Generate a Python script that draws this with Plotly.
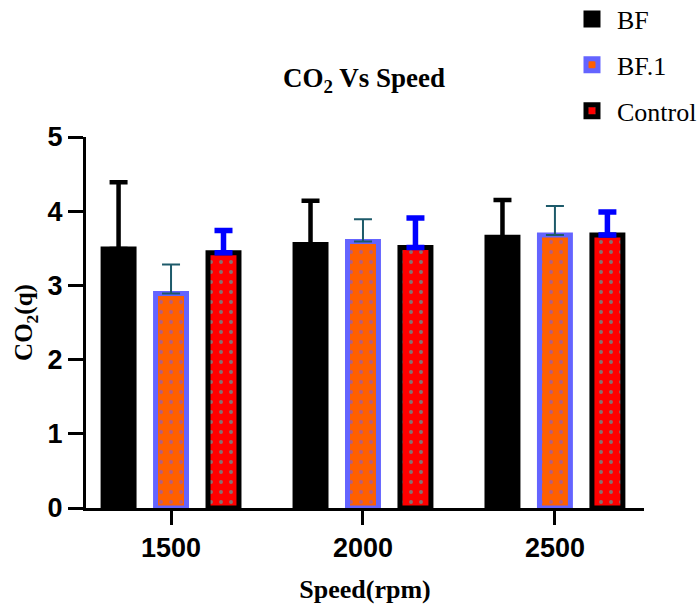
import plotly.graph_objects as go

speeds = ["1500", "2000", "2500"]
bf = [3.49, 3.55, 3.65]
bf_err = [0.90, 0.59, 0.50]
bf1 = [2.89, 3.59, 3.68]
bf1_err = [0.39, 0.30, 0.39]
ctrl = [3.44, 3.51, 3.68]
ctrl_err = [0.30, 0.40, 0.31]
y_ticks = [0, 1, 2, 3, 4, 5]

fig = go.Figure()

fig.add_trace(go.Bar(
    x=speeds, y=bf, name="BF", legendgroup="a",
    marker=dict(color="black", line=dict(color="black", width=5)),
    error_y=dict(type="data", array=bf_err, arrayminus=[0] * len(bf_err), symmetric=False,
                 color="black", thickness=4.5, width=9),
))
fig.add_trace(go.Bar(
    x=speeds, y=bf1, name="BF.1", legendgroup="b",
    marker=dict(color="#ff5f00", line=dict(color="#6464ff", width=5),
                pattern=dict(shape=".", fgcolor="#6a5cff", bgcolor="#ff5f00",
                             size=10, solidity=0.12, fillmode="overlay")),
    error_y=dict(type="data", array=bf1_err, arrayminus=[0] * len(bf1_err), symmetric=False,
                 color="#1d5a6a", thickness=2, width=9),
))
fig.add_trace(go.Bar(
    x=speeds, y=ctrl, name="Control", legendgroup="c",
    marker=dict(color="#ff0000", line=dict(color="black", width=5),
                pattern=dict(shape=".", fgcolor="#10e0e0", bgcolor="#ff0000",
                             size=10, solidity=0.12, fillmode="overlay")),
    error_y=dict(type="data", array=ctrl_err, arrayminus=[0] * len(ctrl_err), symmetric=False,
                 color="#0000ff", thickness=5.5, width=9),
))

fig.update_layout(
    width=699, height=604,
    margin=dict(l=86, r=55, t=137, b=96, autoexpand=False),
    paper_bgcolor="white", plot_bgcolor="white",
    barmode="group", bargap=0.18, bargroupgap=0.41,
    title=dict(text="<b>CO<sub>2</sub> Vs Speed</b>", x=(364 / 699), xanchor="center",
               y=1 - 78 / 604, yanchor="middle",
               font=dict(family="Liberation Serif", size=27, color="black")),
    legend=dict(x=0.862, xanchor="left", y=1.381, yanchor="top",
                font=dict(family="Liberation Serif", size=26, color="black"),
                traceorder="grouped", tracegroupgap=9, itemwidth=40,
                bgcolor="rgba(0,0,0,0)"),
    showlegend=True,
)

fig.update_xaxes(
    type="category", range=[-0.443, 2.464],
    showline=True, linecolor="black", linewidth=3,
    ticks="outside", ticklen=14, tickwidth=3, tickcolor="black",
    showgrid=False, zeroline=False, automargin=False,
    tickfont=dict(family="Liberation Sans", size=27, color="black", weight="bold"),
    title=dict(text="<b>Speed(rpm)</b>", standoff=20,
               font=dict(family="Liberation Serif", size=26, color="black")),
)
fig.update_yaxes(
    range=[0, 5], tickvals=y_ticks,
    showline=True, linecolor="black", linewidth=3,
    ticks="outside", ticklen=15, tickwidth=3, tickcolor="black",
    showgrid=False, zeroline=False, automargin=False,
    tickfont=dict(family="Liberation Sans", size=27, color="black", weight="bold"),
    title=dict(text="<b>CO<sub>2</sub>(q)</b>", standoff=8,
               font=dict(family="Liberation Serif", size=25, color="black")),
)

fig.write_html("out.html", config={"displayModeBar": False},
               post_script="document.body.style.margin='0';")
